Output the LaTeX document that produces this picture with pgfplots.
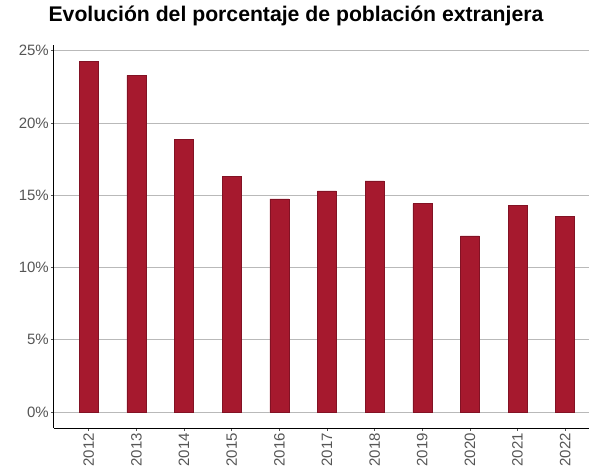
\documentclass[border=0pt]{standalone}
\usepackage{pgfplots}
\pgfplotsset{compat=1.18}
\usepackage{fontspec}
\setmainfont{Liberation Sans}
\definecolor{barred}{RGB}{166,25,46}
\definecolor{bardark}{RGB}{130,18,36}
\definecolor{ticktext}{RGB}{85,85,85}
\definecolor{gridgray}{RGB}{185,185,185}
\begin{document}
\begin{tikzpicture}
\path[use as bounding box] (0,0) rectangle (589pt,475pt);
\node[font=\fontsize{21.2}{25}\selectfont\bfseries, anchor=base, inner sep=0pt] at (296pt,453pt) {Evolución del porcentaje de población extranjera};
\begin{axis}[
  at={(54pt,47pt)}, anchor=south west,
  scale only axis, width=535pt, height=383pt,
  xmin=-0.73, xmax=10.5, ymin=-1.1, ymax=25.4,
  axis x line*=bottom, axis y line*=left,
  axis line style={black, line width=1pt},
  ybar, bar width=19pt,
  xtick={0,...,10},
  xticklabels={2012,2013,2014,2015,2016,2017,2018,2019,2020,2021,2022},
  ytick={0,5,10,15,20,25},
  yticklabels={0\%,5\%,10\%,15\%,20\%,25\%},
  tick align=outside, major tick length=3pt,
  tick style={ticktext, line width=0.8pt},
  ymajorgrids, grid style={gridgray, line width=0.8pt},
  xticklabel style={rotate=90, anchor=east, font=\fontsize{15}{18}\selectfont, text=ticktext, inner sep=2pt},
  yticklabel style={font=\fontsize{15}{18}\selectfont, text=ticktext, inner sep=2pt},
  /pgf/number format/assume math mode=true,
  clip=false,
]
\addplot[fill=barred, draw=bardark, line width=0.5pt] coordinates {
(0,24.29) (1,23.3) (2,18.87) (3,16.33) (4,14.75) (5,15.3) (6,16.0) (7,14.43) (8,12.2) (9,14.3) (10,13.55)
};
\end{axis}
\end{tikzpicture}
\end{document}
